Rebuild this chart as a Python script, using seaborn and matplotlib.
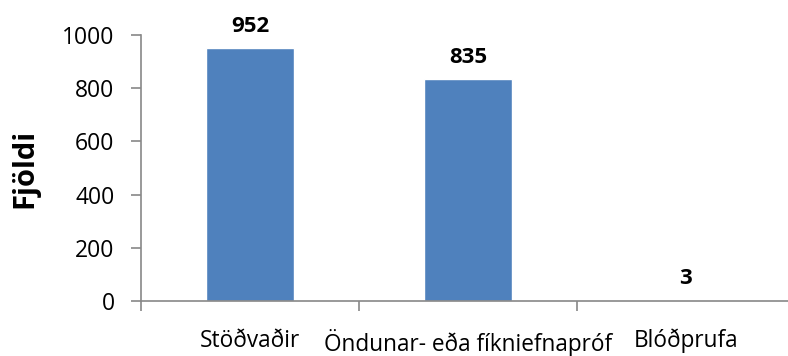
import matplotlib
matplotlib.use("Agg")
import matplotlib.pyplot as plt
import seaborn as sns
import pandas as pd
import numpy as np

categories = ["Stöðvaðir", "Öndunar- eða fíkniefnapróf", "Blóðprufa"]
values = [952, 835, 3]
y_ticks = [0, 200, 400, 600, 800, 1000]

sns.set_theme(style="white")
plt.rcParams["font.family"] = ["Open Sans", "DejaVu Sans"]
plt.rcParams["text.color"] = "black"

df = pd.DataFrame({"kategoria": categories, "fjoldi": values})

fig = plt.figure(figsize=(7.88, 3.56), dpi=100)
ax = fig.add_axes([141 / 788, 1 - 301 / 356, (795 - 141) / 788, 266 / 356])

sns.barplot(data=df, x="kategoria", y="fjoldi", color="#4F81BD", width=0.4,
            saturation=1, ax=ax)

ax.set_ylim(0, 1000)
ax.set_xlim(-0.5, 2.5)
ax.set_yticks(y_ticks)
ax.set_yticklabels([str(t) for t in y_ticks], fontsize=16.5, color="black")

# category labels at bar centres, tick marks between categories
ax.set_xticks(range(len(categories)))
ax.set_xticklabels(categories, fontsize=16.3, color="black")
ax.tick_params(axis="x", which="major", length=0, pad=20)
ax.set_xticks(np.arange(-0.5, len(categories), 1.0), minor=True)
ax.tick_params(axis="x", which="minor", length=7, width=1.2, color="#888888",
               direction="out", bottom=True)
ax.tick_params(axis="y", length=7, width=1.2, color="#888888", direction="out",
               left=True, pad=12)

for side in ["top", "right"]:
    ax.spines[side].set_visible(False)
for side in ["left", "bottom"]:
    ax.spines[side].set_color("#888888")
    ax.spines[side].set_linewidth(1.2)

ax.set_xlabel("")
ax.set_ylabel("Fjöldi", fontsize=21, fontweight="bold", color="black")
ax.yaxis.set_label_coords(-0.155, 0.5)

for i, v in enumerate(values):
    ax.annotate(str(v), (i, v), xytext=(0, 8), textcoords="offset points",
                ha="center", va="bottom", fontsize=16, fontweight="bold",
                color="black")

fig.savefig("out.png", dpi=100)
